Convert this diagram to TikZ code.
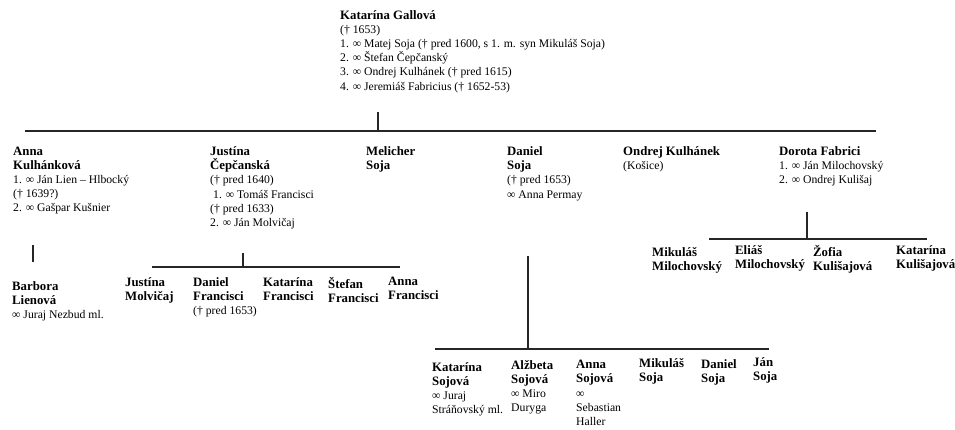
\documentclass[tikz,border=0pt]{standalone}
\usepackage{fontspec}
\setmainfont{Liberation Serif}
\usepackage{tikz}
\definecolor{treeline}{rgb}{0.15, 0.15, 0.15}
\newcommand{\who}[1]{{\fontsize{12.8}{14.2}\selectfont\bfseries #1}}

\begin{document}
\begin{tikzpicture}[x=1pt,y=-1pt,
  person/.style={anchor=north west,align=left,inner sep=0pt,
    font=\fontsize{11.7}{14.2}\selectfont,execute at begin node={\rule{0pt}{12pt}}},
  bar/.style={draw=treeline,line width=1.3pt}]
\useasboundingbox (0,0) rectangle (955,429);

\node[person] (gallova) at (340,10) {\who{Katarína Gallová}\\(† 1653)\\1. ∞ Matej Soja († pred 1600, s 1. m. syn Mikuláš Soja)\\2. ∞ Štefan Čepčanský\\3. ∞ Ondrej Kulhánek († pred 1615)\\4. ∞ Jeremiáš Fabricius († 1652-53)};

\node[person] (anna) at (13,146.5) {\who{Anna}\\\who{Kulhánková}\\1. ∞ Ján Lien – Hlbocký\\(† 1639?)\\2. ∞ Gašpar Kušnier};
\node[person] (justina) at (210,146.5) {\who{Justína}\\\who{Čepčanská}\\(† pred 1640)\\\hspace{3pt}1. ∞ Tomáš Francisci\\(† pred 1633)\\2. ∞ Ján Molvičaj};
\node[person] (melicher) at (366,146.5) {\who{Melicher}\\\who{Soja}};
\node[person] (daniel) at (507,146.5) {\who{Daniel}\\\who{Soja}\\(† pred 1653)\\∞ Anna Permay};
\node[person] (ondrej) at (623,146.5) {\who{Ondrej Kulhánek}\\(Košice)};
\node[person] (dorota) at (779,146.5) {\who{Dorota Fabrici}\\1. ∞ Ján Milochovský\\2. ∞ Ondrej Kulišaj};

\node[person] (barbora) at (12,281) {\who{Barbora}\\\who{Lienová}\\∞ Juraj Nezbud ml.};

\node[person] (jmolv) at (125,277) {\who{Justína}\\\who{Molvičaj}};
\node[person] (dfranc) at (193,277) {\who{Daniel}\\\who{Francisci}\\(† pred 1653)};
\node[person] (kfranc) at (263,277) {\who{Katarína}\\\who{Francisci}};
\node[person] (sfranc) at (328,277) {\who{Štefan}\\\who{Francisci}};
\node[person] (afranc) at (388,277) {\who{Anna}\\\who{Francisci}};

\node[person] (mmil) at (652,247.5) {\who{Mikuláš}\\\who{Milochovský}};
\node[person] (emil) at (735,245) {\who{Eliáš}\\\who{Milochovský}};
\node[person] (zkul) at (813,245) {\who{Žofia}\\\who{Kulišajová}};
\node[person] (kkul) at (896,245) {\who{Katarína}\\\who{Kulišajová}};

\node[person] (ksoj) at (432,362) {\who{Katarína}\\\who{Sojová}\\∞ Juraj\\Stráňovský ml.};
\node[person] (asoj) at (511,360) {\who{Alžbeta}\\\who{Sojová}\\∞ Miro\\Duryga};
\node[person] (ansoj) at (576,360) {\who{Anna}\\\who{Sojová}\\∞\\Sebastian\\Haller};
\node[person] (msoj) at (639,358) {\who{Mikuláš}\\\who{Soja}};
\node[person] (dsoj) at (701,359) {\who{Daniel}\\\who{Soja}};
\node[person] (jsoj) at (753,357) {\who{Ján}\\\who{Soja}};

\coordinate (mT) at (378,112);
\coordinate (mL) at (25,131);
\coordinate (mR) at (876,131);
\coordinate (aT) at (33,245);
\coordinate (aB) at (33,262);
\coordinate (jT) at (243,253);
\coordinate (jL) at (152,267);
\coordinate (jR) at (400,267);
\coordinate (fT) at (807,212);
\coordinate (fL) at (709,239);
\coordinate (fR) at (927,239);
\coordinate (dT) at (528,256);
\coordinate (dL) at (435,349);
\coordinate (dR) at (769,349);

\draw[bar] (mT) -- (mT |- mL);
\draw[bar] (mL) -- (mR);
\draw[bar] (aT) -- (aB);
\draw[bar] (jT) -- (jT |- jL);
\draw[bar] (jL) -- (jR);
\draw[bar] (fT) -- (fT |- fL);
\draw[bar] (fL) -- (fR);
\draw[bar] (dT) -- (dT |- dL);
\draw[bar] (dL) -- (dR);
\end{tikzpicture}
\end{document}
